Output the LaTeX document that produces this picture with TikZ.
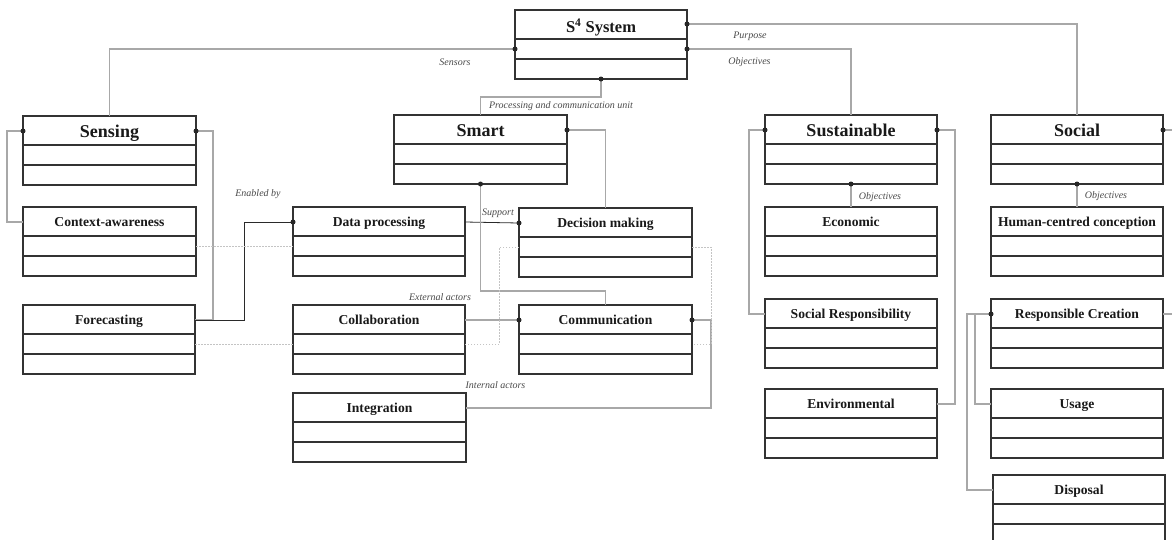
\documentclass[tikz,border=0pt]{standalone}
\usepackage{fontspec}
\setmainfont{Liberation Serif}
\usetikzlibrary{calc}
\definecolor{boxc}{HTML}{333333}
\definecolor{connc}{HTML}{A8A8A8}
\definecolor{darkc}{HTML}{2A2A2A}
\definecolor{labc}{HTML}{4A4A4A}
\definecolor{dotlc}{HTML}{C4C4C4}
\tikzset{
  classbox/.style={draw=boxc, line width=1.25pt, minimum height=69pt, inner sep=0pt, outer sep=0pt, anchor=north west, fill=white},
  divider/.style={draw=boxc, line width=1.1pt},
  bigtitle/.style={font=\bfseries\fontsize{18}{20}\selectfont, text=black!90, inner sep=0pt, anchor=base, yshift=-6.5pt},
  s4title/.style={font=\bfseries\fontsize{16.5}{18}\selectfont, text=black!90, inner sep=0pt, anchor=base, yshift=-8pt},
  smalltitle/.style={font=\bfseries\fontsize{13.6}{15}\selectfont, text=black!90, inner sep=0pt, anchor=base, yshift=-5pt},
  conn/.style={draw=connc, line width=1.2pt},
  darkconn/.style={draw=darkc, line width=0.8pt},
  dotline/.style={draw=dotlc, line width=0.8pt, dash pattern=on 1.5pt off 1.5pt},
  lab/.style={font=\itshape\fontsize{10}{12}\selectfont, text=labc, inner sep=0pt},
  portdot/.style={fill=black!85},
}
\newcommand\classbox[6]{%
  \node[classbox, minimum width=#4pt] (#1) at (#2,#3) {};
  \draw[divider] ([yshift=-29pt]#1.north west) -- ([yshift=-29pt]#1.north east);
  \draw[divider] ([yshift=-49pt]#1.north west) -- ([yshift=-49pt]#1.north east);
  \node[#5] (#1-title) at ([yshift=-14.5pt]#1.north) {#6};
}
\begin{document}
\begin{tikzpicture}[x=1pt,y=-1pt]
\useasboundingbox[fill=white] (0,0) rectangle (1172,539);

% boxes
\classbox{S4}{515}{10}{172}{s4title}{S\textsuperscript{4}\ System}
\classbox{Sensing}{23}{116}{173}{bigtitle}{Sensing}
\classbox{Context}{23}{207}{173}{smalltitle}{Context-awareness}
\classbox{Forecast}{23}{305}{172}{smalltitle}{Forecasting}
\classbox{Smart}{394}{115}{173}{bigtitle}{Smart}
\classbox{DataProc}{293}{207}{172}{smalltitle}{Data processing}
\classbox{Decision}{519}{208}{173}{smalltitle}{Decision making}
\classbox{Collab}{293}{305}{172}{smalltitle}{Collaboration}
\classbox{Comm}{519}{305}{173}{smalltitle}{Communication}
\classbox{Integ}{293}{393}{173}{smalltitle}{Integration}
\classbox{Sustain}{765}{115}{172}{bigtitle}{Sustainable}
\classbox{Econ}{765}{207}{172}{smalltitle}{Economic}
\classbox{SocResp}{765}{299}{172}{smalltitle}{Social Responsibility}
\classbox{Environ}{765}{389}{172}{smalltitle}{Environmental}
\classbox{Social}{991}{115}{172}{bigtitle}{Social}
\classbox{Human}{991}{207}{172}{smalltitle}{Human-centred conception}
\classbox{RespC}{991}{299}{172}{smalltitle}{Responsible Creation}
\classbox{Usage}{991}{389}{172}{smalltitle}{Usage}
\classbox{Disposal}{993}{475}{172}{smalltitle}{Disposal}

% ports
\coordinate (s4L) at ([yshift=-39pt]S4.north west);
\coordinate (s4R) at ([yshift=-39pt]S4.north east);
\coordinate (s4RT) at ([yshift=-14pt]S4.north east);
\coordinate (senL) at ([yshift=-15pt]Sensing.north west);
\coordinate (senR) at ([yshift=-15pt]Sensing.north east);
\coordinate (dpL) at ([yshift=-15pt]DataProc.north west);
\coordinate (dmL) at ([yshift=-15pt]Decision.north west);
\coordinate (smR) at ([yshift=-15pt]Smart.north east);
\coordinate (cmL) at ([yshift=-15pt]Comm.north west);
\coordinate (cmR) at ([yshift=-15pt]Comm.north east);
\coordinate (suL) at ([yshift=-15pt]Sustain.north west);
\coordinate (suR) at ([yshift=-15pt]Sustain.north east);
\coordinate (soR) at ([yshift=-15pt]Social.north east);
\coordinate (rcL) at ([yshift=-15pt]RespC.north west);
\coordinate (rcR) at ([yshift=-15pt]RespC.north east);
\coordinate (edgeSo) at (1172,130);
\coordinate (edgeRc) at (1172,314);

% connectors
\draw[conn] (s4L) -| (Sensing.north);
\draw[conn] (s4R) -| (Sustain.north);
\draw[conn] (s4RT) -| (Social.north);
\draw[conn] (S4.south) -- ++(0,18) -| (Smart.north);
\draw[conn] (senL) -- ++(-16,0) |- ([yshift=-15pt]Context.north west);
\draw[conn] (senR) -- ++(17,0) |- ([yshift=-15pt]Forecast.north east);
\draw[darkconn] ([yshift=-15pt]Forecast.north east) -- ++(49,0) |- (dpL);
\draw[darkconn] ([yshift=-15pt]DataProc.north east) -- (dmL);
\draw[conn] (smR) -| (Decision.north);
\draw[conn] (Smart.south) -- ++(0,107) -| (Comm.north);
\draw[conn] ([yshift=-15pt]Collab.north east) -- (cmL);
\draw[conn] (cmR) -- ++(19,0) |- ([yshift=-15pt]Integ.north east);
\draw[conn] (Sustain.south) -- (Econ.north);
\draw[conn] (suL) -- ++(-16,0) |- ([yshift=-15pt]SocResp.north west);
\draw[conn] (suR) -- ++(18,0) |- ([yshift=-15pt]Environ.north east);
\draw[conn] (Social.south) -- (Human.north);
\draw[conn] (soR) -- (edgeSo);
\draw[conn] (rcR) -- (edgeRc);
\draw[conn] (rcL) -- ++(-24,0) |- ([yshift=-15pt]Disposal.north west);
\draw[conn] ([xshift=-16pt]rcL) |- ([yshift=-15pt]Usage.north west);

% dotted links
\draw[dotline] ([yshift=-39pt]Context.north east) -- ([yshift=-39pt]DataProc.north west);
\draw[dotline] ([yshift=-39pt]Forecast.north east) -- ([yshift=-39pt]Collab.north west);
\draw[dotline] ([yshift=-39pt]Decision.north west) -- ++(-20,0) |- ([yshift=-39pt]Collab.north east);
\draw[dotline] ([yshift=-39pt]Decision.north east) -- ++(19,0) |- ([yshift=-39pt]Comm.north east);

% port dots
\foreach \p in {s4L,s4R,s4RT,S4.south,senL,senR,dpL,dmL,smR,Smart.south,cmL,cmR,Sustain.south,suL,suR,Social.south,soR,rcL}
  \fill[portdot] (\p) circle (2.5pt);

% labels
\node[lab] (lSensors) at (455,62) {Sensors};
\node[lab] (lObj1) at (749.5,62) {Objectives};
\node[lab] (lPurpose) at (750,36) {Purpose};
\node[lab] (lProc) at (561,106) {Processing and communication unit};
\node[lab] (lEnabled) at (258,194) {Enabled by};
\node[lab] (lSupport) at (498,213) {Support};
\node[lab] (lExt) at (440,297) {External actors};
\node[lab] (lInt) at (495.5,385) {Internal actors};
\node[lab] (lObj2) at (880,197) {Objectives};
\node[lab] (lObj3) at (1106,196) {Objectives};
\end{tikzpicture}
\end{document}
